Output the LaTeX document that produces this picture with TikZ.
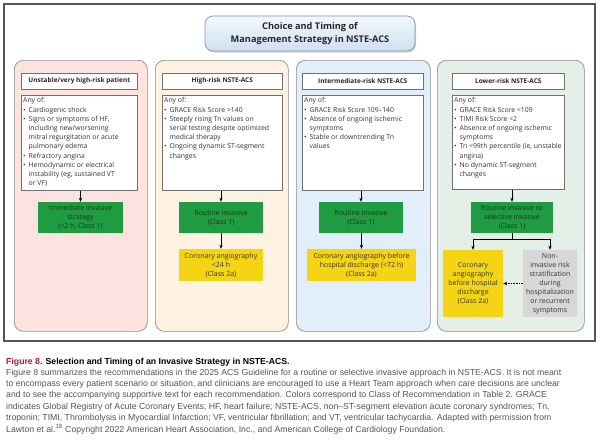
\documentclass[tikz,border=0pt]{standalone}
\usepackage{fontspec}
\setmainfont{Open Sans}
\newfontfamily\capfont{Liberation Sans}
\usetikzlibrary{arrows.meta,shadows}
\definecolor{framec}{HTML}{555555}
\definecolor{colborder}{HTML}{8C8C8C}
\definecolor{cpink}{HTML}{FCE3DF}
\definecolor{ccream}{HTML}{FEF3E2}
\definecolor{cblue}{HTML}{E2EEF9}
\definecolor{cgreen}{HTML}{E4EFE7}
\definecolor{gbox}{HTML}{1F9C41}
\definecolor{gtext}{HTML}{123A1A}
\definecolor{ybox}{HTML}{F5D416}
\definecolor{greybox}{HTML}{D7D7D7}
\definecolor{titletop}{HTML}{F4F8FC}
\definecolor{titlebot}{HTML}{CFE0F1}
\definecolor{titleborder}{HTML}{7F93AA}
\definecolor{figred}{HTML}{B0173F}
\definecolor{captext}{HTML}{555555}
\newcommand\bitem{\makebox[5.5pt][l]{\textbullet}}
\newcommand\cont{\hspace*{5.5pt}}
\tikzset{
  colbox/.style={draw=colborder, line width=0.7pt, rounded corners=9pt, anchor=north west, inner sep=0pt},
  headbox/.style={draw=colborder!80!black, line width=0.6pt, fill=white, anchor=north west, inner sep=0pt},
  headtext/.style={font=\bfseries\fontsize{6.5}{8}\selectfont, text=black!85},
  contbox/.style={draw=colborder!80!black, line width=0.6pt, fill=white, anchor=north west, inner sep=0pt},
  ctext/.style={anchor=north west, align=left, inner sep=0pt, font=\fontsize{6.85}{9.2}\selectfont, text=black!80},
  greenbox/.style={fill=gbox, inner sep=0pt, align=center, font=\fontsize{7.0}{9}\selectfont, text=gtext},
  yellowbox/.style={fill=ybox, inner sep=0pt, align=center, font=\fontsize{7.0}{9}\selectfont, text=black!80},
  greybx/.style={fill=greybox, inner sep=0pt, align=center, font=\fontsize{7.0}{9}\selectfont, text=black!80},
  arr/.style={-{Stealth[length=4pt,width=3.2pt]}, line width=0.6pt, black},
  plainln/.style={line width=0.6pt, black},
}
\begin{document}
\begin{tikzpicture}[x=1pt,y=-1pt]
\useasboundingbox (0,0) rectangle (600,442);
\fill[white] (0,0) rectangle (600,442);
% outer frame
\draw[framec, line width=1.1pt] (4,4) rectangle (595,341);
% title
\node[draw=titleborder, line width=0.7pt, rounded corners=8pt, top color=titletop, bottom color=titlebot,
  drop shadow={shadow xshift=1pt, shadow yshift=-1.5pt, opacity=0.35},
  minimum width=210pt, minimum height=35pt, inner sep=0pt, align=center,
  font=\bfseries\fontsize{9.2}{12.5}\selectfont, text=black!85] (title) at (310,33.5)
  {Choice and Timing of\\Management Strategy in NSTE-ACS};
% columns
\node[colbox, fill=cpink,  minimum width=133pt, minimum height=271pt] (k1) at (14,60) {};
\node[colbox, fill=ccream, minimum width=133pt, minimum height=271pt] (k2) at (155,60) {};
\node[colbox, fill=cblue,  minimum width=134pt, minimum height=271pt] (k3) at (296,60) {};
\node[colbox, fill=cgreen, minimum width=147pt, minimum height=271pt] (k4) at (437,60) {};
% headers
\node[headbox, minimum width=116pt, minimum height=16pt] (h1) at (21,73) {};
\node[headtext] (h1t) at (h1) {Unstable/very high-risk patient};
\node[headbox, minimum width=120pt, minimum height=16pt] (h2) at (162,73) {};
\node[headtext] (h2t) at (h2) {High-risk NSTE-ACS};
\node[headbox, minimum width=121pt, minimum height=16pt] (h3) at (302,73) {};
\node[headtext] (h3t) at (h3) {Intermediate-risk NSTE-ACS};
\node[headbox, minimum width=112pt, minimum height=16pt] (h4) at (452,73) {};
\node[headtext] (h4t) at (h4) {Lower-risk NSTE-ACS};
% content boxes
\node[contbox, minimum width=116pt, minimum height=95pt] (c1) at (21,95) {};
\node[contbox, minimum width=120pt, minimum height=95pt] (c2) at (162,95) {};
\node[contbox, minimum width=121pt, minimum height=95pt] (c3) at (302,95) {};
\node[contbox, minimum width=112pt, minimum height=94pt] (c4) at (452,95) {};
\node[ctext] (t1) at ([xshift=2pt,yshift=-2.5pt]c1.north west) {Any of:\\
\bitem Cardiogenic shock\\
\bitem Signs or symptoms of HF,\\
\cont including new/worsening\\
\cont mitral regurgitation or acute\\
\cont pulmonary edema\\
\bitem Refractory angina\\
\bitem Hemodynamic or electrical\\
\cont instability (eg, sustained VT\\
\cont or VF)};
\node[ctext] (t2) at ([xshift=2pt,yshift=-2.5pt]c2.north west) {Any of:\\
\bitem GRACE Risk Score >140\\
\bitem Steeply rising Tn values on\\
\cont serial testing despite optimized\\
\cont medical therapy\\
\bitem Ongoing dynamic ST-segment\\
\cont changes};
\node[ctext] (t3) at ([xshift=2pt,yshift=-2.5pt]c3.north west) {Any of:\\
\bitem GRACE Risk Score 109–140\\
\bitem Absence of ongoing ischemic\\
\cont symptoms\\
\bitem Stable or downtrending Tn\\
\cont values};
\node[ctext] (t4) at ([xshift=2pt,yshift=-2.5pt]c4.north west) {Any of:\\
\bitem GRACE Risk Score <109\\
\bitem TIMI Risk Score <2\\
\bitem Absence of ongoing ischemic\\
\cont symptoms\\
\bitem Tn <99th percentile (ie, unstable\\
\cont angina)\\
\bitem No dynamic ST-segment\\
\cont changes};
% green boxes
\node[greenbox, minimum width=85pt, minimum height=31pt] (g1) at (80.5,217.5) {Immediate invasive\\strategy\\(<2 h, Class 1)};
\node[greenbox, minimum width=84pt, minimum height=31pt] (g2) at (221,217.5) {Routine invasive\\(Class 1)};
\node[greenbox, minimum width=84pt, minimum height=31pt] (g3) at (361,217.5) {Routine invasive\\(Class 1)};
\node[greenbox, minimum width=82pt, minimum height=31pt] (g4) at (512,217.5) {Routine invasive or\\selective invasive\\(Class 1)};
% yellow boxes
\node[yellowbox, minimum width=84pt, minimum height=32pt] (y2) at (221,265) {Coronary angiography\\<24 h\\(Class 2a)};
\node[yellowbox, minimum width=109pt, minimum height=32pt] (y3) at (361.5,265) {Coronary angiography before\\hospital discharge (<72 h)\\(Class 2a)};
\node[yellowbox, minimum width=60pt, minimum height=67pt] (y4) at (473,283.5) {Coronary\\angiography\\before hospital\\discharge\\(Class 2a)};
\node[greybx, minimum width=54pt, minimum height=67pt] (n4) at (550,283.5) {Non-\\invasive risk\\stratification\\during\\hospitalization\\or recurrent\\symptoms};
% connectors
\draw[arr] (g1.north |- c1.south) -- (g1.north);
\draw[arr] (g2.north |- c2.south) -- (g2.north);
\draw[arr] (g3.north |- c3.south) -- (g3.north);
\draw[arr] (g4.north |- c4.south) -- (g4.north);
\draw[arr] (y2.north |- g2.south) -- (y2.north);
\draw[arr] (y3.north |- g3.south) -- (y3.north);
\draw[plainln] (g4.south) -- ([yshift=-6pt]g4.south) coordinate (bm);
\draw[plainln] (bm -| y4.north) -- (bm -| n4.north);
\draw[arr] (bm -| y4.north) -- (y4.north);
\draw[arr] (bm -| n4.north) -- (n4.north);
\draw[arr, densely dotted] (n4.west) -- (y4.east);
% caption
\node[anchor=west, inner sep=0pt, font=\capfont\bfseries\fontsize{8.7}{10}\selectfont] (cap) at (6,362)
  {\textcolor{figred}{Figure 8.} Selection and Timing of an Invasive Strategy in NSTE-ACS.};
\node[anchor=north west, inner sep=0pt, align=left, text=captext, font=\capfont\fontsize{8.7}{11.45}\selectfont] (body) at (6,368.5)
  {Figure 8 summarizes the recommendations in the 2025 ACS Guideline for a routine or selective invasive approach in NSTE-ACS. It is not meant\\
to encompass every patient scenario or situation, and clinicians are encouraged to use a Heart Team approach when care decisions are unclear\\
and to see the accompanying supportive text for each recommendation. Colors correspond to Class of Recommendation in Table 2. GRACE\\
indicates Global Registry of Acute Coronary Events; HF, heart failure; NSTE-ACS, non–ST-segment elevation acute coronary syndromes; Tn,\\
troponin; TIMI, Thrombolysis in Myocardial Infarction; VF, ventricular fibrillation; and VT, ventricular tachycardia. Adapted with permission from\\
Lawton et al.\textsuperscript{18} Copyright 2022 American Heart Association, Inc., and American College of Cardiology Foundation.};
\end{tikzpicture}
\end{document}
